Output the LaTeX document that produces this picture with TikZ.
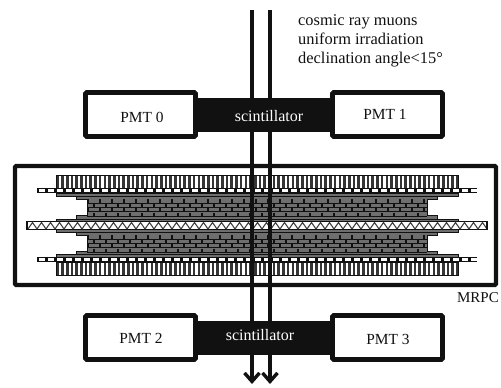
\documentclass[tikz,border=0pt]{standalone}
\usepackage{fontspec}
\setmainfont{Liberation Serif}
\usetikzlibrary{arrows.meta}
\definecolor{ink}{HTML}{111111}
\definecolor{plate}{HTML}{6E6E6E}
\tikzset{
  pmt/.style={draw=ink,line width=4.8pt,fill=white,rounded corners=1.2pt,minimum width=110pt,minimum height=44pt,inner sep=0pt},
  pmttext/.style={inner sep=0pt,text=ink,font=\fontsize{15.4}{15.4}\selectfont},
  scint/.style={fill=ink,draw=none,minimum width=134pt,minimum height=34pt,inner sep=0pt},
  scinttext/.style={text=white,font=\fontsize{16}{16}\selectfont,inner sep=0pt},
  label/.style={font=\fontsize{16.4}{19}\selectfont,inner sep=0pt,text=ink},
  beam/.style={draw=ink,line width=3.6pt,-{Straight Barb[length=8.5pt,width=15pt,line width=3.4pt]}},
  plateb/.style={fill=plate,draw=ink,line width=0.8pt}
}
\begin{document}
\begin{tikzpicture}[x=1pt,y=-1pt]
\useasboundingbox (0,0) rectangle (501,388);
\fill[white] (0,0) rectangle (501,388);
% MRPC frame
\node[draw=ink,line width=4.4pt,rounded corners=1.2pt,minimum width=481pt,minimum height=119pt,inner sep=0pt] (mrpc) at (255.5,225.5) {};
% honeycomb
\foreach \ya/\yb in {175/188,262/275}{
  \fill[white] (56,\ya) rectangle (458,\yb);
  \foreach \x in {56.5,61.2,...,458}{\fill[ink!85] (\x,\ya) rectangle ++(2.6,\yb-\ya);}
  \draw[ink,line width=0.8pt] (56,\ya) rectangle (458,\yb);
}
% plates
\foreach \xa/\xb/\ya/\yb in {
 56/458/193/196, 76/437/196/199, 76/437/215/219, 56/458/219/222,
 56/458/229/232, 76/437/232/235, 76/437/251/254, 56/458/254/257}{
  \draw[plateb] (\xa,\ya) rectangle (\xb,\yb);
}
% glass stacks
\foreach \ystart in {199,235}{
  \fill[plate] (87,\ystart) rectangle (427,\ystart+16.5);
  \foreach \r in {0,1,2,3}{
    \pgfmathsetmacro{\yy}{\ystart+\r*4.4}
    \draw[ink,line width=1.1pt] (87,\yy+4.1) -- (427,\yy+4.1);
    \pgfmathsetmacro{\off}{mod(\r,2)*6}
    \foreach \k in {0,...,28}{
      \pgfmathsetmacro{\xk}{88+\off+\k*12}
      \ifdim\xk pt<427pt \draw[ink,line width=1.4pt] (\xk,\yy+0.3) -- (\xk,\yy+4); \fi
    }
  }
  \draw[ink,line width=0.8pt] (87,\ystart) -- (87,\ystart+16.5) (427,\ystart) -- (427,\ystart+16.5);
}
% dashed electrode strips
\foreach \xa/\xb/\ya/\yb in {37/477/188/193,37/477/257/262}{
  \fill[ink] (\xa,\ya) rectangle (\xb,\yb);
  \foreach \x in {38.5,47.5,...,472}{\fill[white] (\x,\ya+1) rectangle ++(6.2,\yb-\ya-2);}
}
% middle strip with triangles
\fill[white] (27,222) rectangle (487,229);
\foreach \x in {28,37,...,478}{
  \draw[ink!80,line width=1.1pt] (\x,229) -- (\x+4.5,222.5) -- (\x+9,229);
}
\draw[ink,line width=1.2pt] (27,221.5) rectangle (487,229.5);
% beams
\coordinate (b0s) at (252,10);
\coordinate (b1s) at (270,10);
\coordinate (b0e) at (252,384);
\coordinate (b1e) at (270,384);
\draw[beam] (b0s) -- (b0e);
\draw[beam] (b1s) -- (b1e);
% top row
\node[scint] (s0) at (264,115) {};
\node[pmt] (p0) at (140.5,114.5) {};
\node[pmt] (p1) at (387.5,114.5) {};
\node[pmttext] (t0) at (142,117) {PMT 0};
\node[pmttext] (t1) at (385,114.5) {PMT 1};
\node[scinttext] (st0) at (269,116) {scintillator};
% bottom row
\node[scint] (s1) at (264,338) {};
\node[pmt] (p2) at (140.5,337.5) {};
\node[pmt] (p3) at (387.5,337.5) {};
\node[pmttext] (t2) at (141,338.5) {PMT 2};
\node[pmttext] (t3) at (388,339) {PMT 3};
\node[scinttext] (st1) at (260,335.5) {scintillator};
% labels
\node[label,anchor=west,align=left] (note) at (298,41) {cosmic ray muons\\uniform irradiation\\declination angle<15°};
\node[label,font=\fontsize{15}{15}\selectfont] (mrpclabel) at (478,298) {MRPC};
\end{tikzpicture}
\end{document}
